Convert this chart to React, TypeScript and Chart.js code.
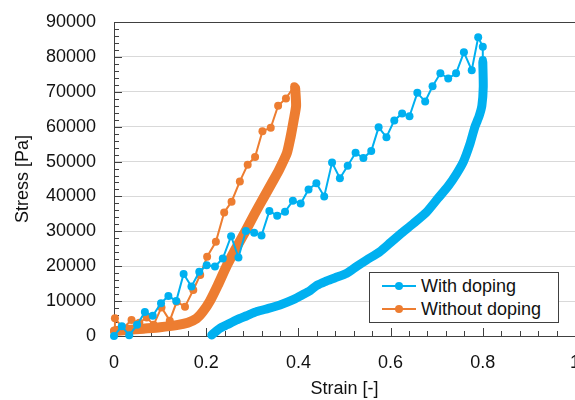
import React, { useEffect, useRef } from "react";
import { Chart, registerables } from "chart.js";

Chart.register(...registerables);

// ---- Labels & colours ----
const seriesLabels = ["With doping", "Without doping"];
const seriesColors = ["#00B0F0", "#ED7D31"];
const xTitle = "Strain [-]";
const yTitle = "Stress [Pa]";

// ---- Axis settings ----
const xMin = 0;
const xMax = 1;
const xStep = 0.2;
const xMinorStep = 0.04;
const yMin = 0;
const yMax = 90000;
const yStep = 10000;
const yMinorStep = 2000;

// ---- With doping: sparse (jagged) branch ----
const withDopingSparseStrain = [
  0, 0.017, 0.033, 0.05, 0.067, 0.084, 0.102, 0.118, 0.135, 0.151, 0.168, 0.185,
  0.201, 0.219, 0.236, 0.254, 0.27, 0.286, 0.304, 0.32, 0.337, 0.354, 0.371,
  0.388, 0.405, 0.422, 0.439, 0.456, 0.473, 0.49, 0.507, 0.524, 0.541, 0.558,
  0.574, 0.591, 0.608, 0.625, 0.641, 0.658, 0.675, 0.691, 0.708, 0.725, 0.742,
  0.759, 0.776, 0.79, 0.8, 0.8,
];
const withDopingSparseStress = [
  0, 2800, 200, 3200, 6900, 5800, 9400, 11500, 10000, 17800, 14200, 18400,
  20300, 19900, 22200, 28600, 22500, 30100, 29600, 28800, 35800, 34500, 35600,
  38800, 38000, 42000, 43800, 40000, 49700, 45200, 48800, 52500, 51000, 53000,
  59800, 57000, 61800, 63800, 63000, 69700, 67200, 71600, 75300, 73800, 75300,
  81300, 76200, 85600, 82900, 79100,
];

// ---- With doping: dense branch ----
const withDopingDenseStrain = [
  0.8, 0.801, 0.798, 0.792, 0.783, 0.772, 0.758, 0.743, 0.725, 0.703, 0.678,
  0.649, 0.624, 0.6, 0.577, 0.548, 0.527, 0.505, 0.48, 0.458, 0.44, 0.425,
  0.41, 0.39, 0.36, 0.335, 0.31, 0.288, 0.266, 0.245, 0.23, 0.212,
];
const withDopingDenseStress = [
  78500, 71500, 66000, 63000, 60000, 55000, 50000, 46500, 43000, 39500, 35500,
  32200, 29500, 26800, 24200, 21800, 20000, 18000, 16700, 15600, 14500, 13000,
  11900, 10500, 8900, 7900, 7000, 5800, 4600, 3200, 2200, 300,
];

// ---- Without doping: sparse (jagged) branch ----
const withoutDopingSparseStrain = [
  0, 0.002, 0.02, 0.038, 0.055, 0.071, 0.086, 0.103, 0.121, 0.136, 0.154, 0.172,
  0.187, 0.202, 0.221, 0.239, 0.255, 0.273, 0.29, 0.306, 0.322, 0.34, 0.356,
  0.373, 0.391,
];
const withoutDopingSparseStress = [
  1500, 5100, 2200, 4600, 3800, 5300, 3200, 8200, 4400, 9800, 8400, 13200,
  17500, 22700, 27000, 35400, 38500, 44300, 49100, 51300, 58700, 59700, 66000,
  68100, 71600,
];

// ---- Without doping: dense branch ----
const withoutDopingDenseStrain = [
  0.393, 0.395, 0.39, 0.383, 0.375, 0.358, 0.343, 0.326, 0.305, 0.285, 0.264,
  0.244, 0.225, 0.208, 0.193, 0.179, 0.16, 0.136, 0.1, 0.064, 0.028, 0.002,
];
const withoutDopingDenseStress = [
  71000, 66000, 62000, 57000, 52400, 47600, 44000, 40000, 35000, 30000, 25000,
  20000, 14500, 10000, 7000, 5000, 3800, 3100, 2500, 2100, 1700, 1400,
];

const toPoints = (xs: number[], ys: number[]) =>
  xs.map((x, i) => ({ x, y: ys[i] }));

const FONT = "'Liberation Sans', Arial, sans-serif";
const AXIS_COLOR = "#404040";
const GRID_COLOR = "#d9d9d9";

const innerTicksPlugin = {
  id: "innerTicks",
  beforeDatasetsDraw(chart: any) {
    const { ctx, chartArea, scales } = chart;
    const xs = scales.x;
    const ys = scales.y;
    ctx.save();
    ctx.strokeStyle = AXIS_COLOR;
    ctx.lineWidth = 1;
    ctx.beginPath();
    const nY = Math.round((yMax - yMin) / yMinorStep);
    for (let i = 0; i <= nY; i++) {
      const v = yMin + i * yMinorStep;
      const py = Math.round(ys.getPixelForValue(v)) + 0.5;
      const len = i % Math.round(yStep / yMinorStep) === 0 ? 8 : 5;
      ctx.moveTo(chartArea.left, py);
      ctx.lineTo(chartArea.left + len, py);
    }
    const nX = Math.round((xMax - xMin) / xMinorStep);
    for (let i = 0; i <= nX; i++) {
      const v = xMin + i * xMinorStep;
      const px = Math.round(xs.getPixelForValue(v)) + 0.5;
      const len = i % Math.round(xStep / xMinorStep) === 0 ? 8 : 5;
      ctx.moveTo(px, chartArea.bottom);
      ctx.lineTo(px, chartArea.bottom - len);
    }
    ctx.stroke();
    ctx.restore();
  },
};

export default function App() {
  const canvasRef = useRef<HTMLCanvasElement | null>(null);

  useEffect(() => {
    if (!canvasRef.current) return;
    const sparseCommon = {
      showLine: true,
      borderWidth: 2,
      pointRadius: 4,
      pointHoverRadius: 4,
      pointBorderWidth: 0,
      clip: false as any,
    };
    const denseCommon = {
      showLine: true,
      pointRadius: 0,
      tension: 0.2,
      borderCapStyle: "round" as const,
      borderJoinStyle: "round" as const,
      clip: false as any,
    };
    const chart = new Chart(canvasRef.current, {
      type: "scatter",
      data: {
        datasets: [
          {
            label: seriesLabels[0],
            data: toPoints(withDopingSparseStrain, withDopingSparseStress),
            borderColor: seriesColors[0],
            backgroundColor: seriesColors[0],
            order: 1,
            ...sparseCommon,
          },
          {
            label: seriesLabels[0] + " (dense)",
            data: toPoints(withDopingDenseStrain, withDopingDenseStress),
            borderColor: seriesColors[0],
            backgroundColor: seriesColors[0],
            borderWidth: 9,
            order: 2,
            ...denseCommon,
          },
          {
            label: seriesLabels[1],
            data: toPoints(withoutDopingSparseStrain, withoutDopingSparseStress),
            borderColor: seriesColors[1],
            backgroundColor: seriesColors[1],
            order: 3,
            ...sparseCommon,
          },
          {
            label: seriesLabels[1] + " (dense)",
            data: toPoints(withoutDopingDenseStrain, withoutDopingDenseStress),
            borderColor: seriesColors[1],
            backgroundColor: seriesColors[1],
            borderWidth: 10,
            order: 4,
            ...denseCommon,
          },
        ],
      },
      options: {
        animation: false,
        responsive: true,
        maintainAspectRatio: false,
        events: [],
        layout: { padding: { top: 22, right: 25, left: 0, bottom: 0 } },
        plugins: {
          legend: { display: false },
          tooltip: { enabled: false },
        },
        scales: {
          x: {
            type: "linear",
            min: xMin,
            max: xMax,
            ticks: {
              stepSize: xStep,
              padding: 16,
              color: "#111",
              font: { family: FONT, size: 18 },
              maxRotation: 0,
              callback: (v: any) => String(Math.round(Number(v) * 100) / 100),
            },
            grid: { display: false, drawTicks: false },
            border: { display: true, color: AXIS_COLOR, width: 1 },
            title: {
              display: true,
              text: xTitle,
              color: "#111",
              font: { family: FONT, size: 18 },
              padding: { top: 0, bottom: 0 },
            },
            afterFit: (s: any) => {
              s.height = 64;
              s.paddingLeft = 0;
              s.paddingRight = 0;
            },
          },
          y: {
            type: "linear",
            min: yMin,
            max: yMax,
            ticks: {
              stepSize: yStep,
              padding: 18,
              color: "#111",
              font: { family: FONT, size: 18 },
              callback: (v: any) => String(v),
            },
            grid: {
              drawTicks: false,
              color: (c: any) =>
                c.tick && c.tick.value === yMax ? AXIS_COLOR : GRID_COLOR,
              lineWidth: 1,
            },
            border: { display: true, color: AXIS_COLOR, width: 1 },
            title: {
              display: true,
              text: yTitle,
              color: "#111",
              font: { family: FONT, size: 18 },
              padding: { top: 12, bottom: 0 },
            },
            afterFit: (s: any) => {
              s.width = 114;
              s.paddingTop = 0;
              s.paddingBottom = 0;
            },
          },
        },
      },
      plugins: [innerTicksPlugin],
    });
    return () => chart.destroy();
  }, []);

  const legendRow = (label: string, color: string, top: number) => (
    <div
      style={{
        position: "absolute",
        left: 0,
        top,
        height: 22,
        display: "flex",
        alignItems: "center",
      }}
    >
      <div style={{ position: "relative", width: 34, height: 22, marginLeft: 12 }}>
        <div
          style={{
            position: "absolute",
            left: 0,
            top: 10,
            width: 34,
            height: 2,
            background: color,
          }}
        />
        <div
          style={{
            position: "absolute",
            left: 13,
            top: 7,
            width: 8,
            height: 8,
            borderRadius: 4,
            background: color,
          }}
        />
      </div>
      <span
        style={{
          marginLeft: 5,
          fontFamily: FONT,
          fontSize: 18,
          color: "#111",
          whiteSpace: "nowrap",
          lineHeight: "22px",
        }}
      >
        {label}
      </span>
    </div>
  );

  return (
    <div
      style={{
        position: "fixed",
        left: 0,
        top: 0,
        width: 575,
        height: 400,
        overflow: "hidden",
        background: "#fff",
      }}
    >
      <div style={{ position: "absolute", left: 0, top: 0, width: 600, height: 400 }}>
        <canvas ref={canvasRef} />
      </div>
      <div
        style={{
          position: "absolute",
          left: 369,
          top: 272,
          width: 190,
          height: 51,
          boxSizing: "border-box",
          border: `1px solid ${AXIS_COLOR}`,
          background: "#fff",
        }}
      >
        {legendRow(seriesLabels[0], seriesColors[0], 2)}
        {legendRow(seriesLabels[1], seriesColors[1], 25)}
      </div>
    </div>
  );
}
